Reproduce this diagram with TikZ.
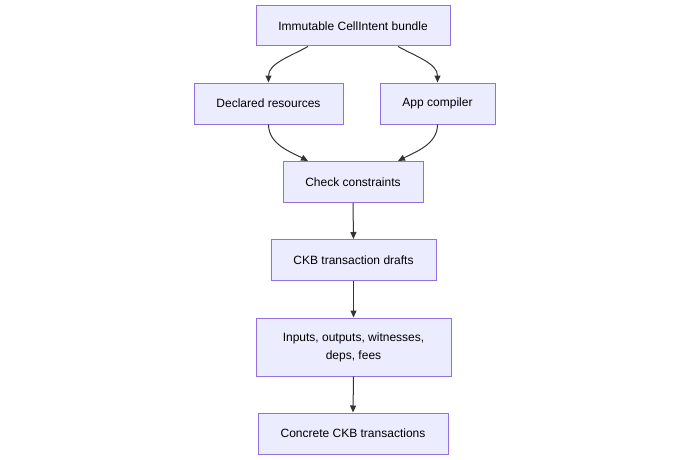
\documentclass[tikz,border=0pt]{standalone}
\usepackage{fontspec}
\setmainfont{Liberation Sans}
\usetikzlibrary{arrows.meta,calc}
\definecolor{boxfill}{HTML}{ECECFF}
\definecolor{boxline}{HTML}{9370DB}
\definecolor{edgecol}{HTML}{333333}
\begin{document}
\begin{tikzpicture}[x=1pt,y=1pt,
  stepbox/.style={draw=boxline,fill=boxfill,line width=1pt,rectangle,inner sep=0pt,
    font=\fontsize{12}{18}\selectfont,align=center,text=black},
  flow/.style={draw=edgecol,line width=1pt,-{Triangle[length=7pt,width=6pt]}}]
\useasboundingbox (0,0) rectangle (690,459);
\node[stepbox,minimum width=194pt,minimum height=40pt] (top) at (353,433) {Immutable CellIntent bundle};
\node[stepbox,minimum width=149pt,minimum height=41pt] (dec) at (268.5,355.5) {Declared resources};
\node[stepbox,minimum width=115pt,minimum height=41pt] (app) at (437.5,355.5) {App compiler};
\node[stepbox,minimum width=140pt,minimum height=41pt] (chk) at (353,277) {Check constraints};
\node[stepbox,minimum width=165pt,minimum height=41pt] (drafts) at (353.5,199) {CKB transaction drafts};
\node[stepbox,minimum width=195pt,minimum height=58pt] (inputs) at (353.5,112) {Inputs, outputs, witnesses,\\deps, fees};
\node[stepbox,minimum width=190pt,minimum height=41pt] (concrete) at (353,25.5) {Concrete CKB transactions};
\draw[flow] ([xshift=-45pt]top.south) .. controls ([xshift=-63pt,yshift=-10pt]top.south) and ([yshift=19pt]dec.north) .. (dec.north);
\draw[flow] ([xshift=45pt]top.south) .. controls ([xshift=63pt,yshift=-10pt]top.south) and ([yshift=19pt]app.north) .. (app.north);
\draw[flow] (dec.south) .. controls ([yshift=-20pt]dec.south) and ([xshift=-62pt,yshift=9pt]chk.north) .. ([xshift=-45pt]chk.north);
\draw[flow] (app.south) .. controls ([yshift=-20pt]app.south) and ([xshift=62pt,yshift=9pt]chk.north) .. ([xshift=45pt]chk.north);
\draw[flow] (chk.south) -- (drafts.north);
\draw[flow] (drafts.south) -- (inputs.north);
\draw[flow] (inputs.south) -- (concrete.north);
\end{tikzpicture}
\end{document}
